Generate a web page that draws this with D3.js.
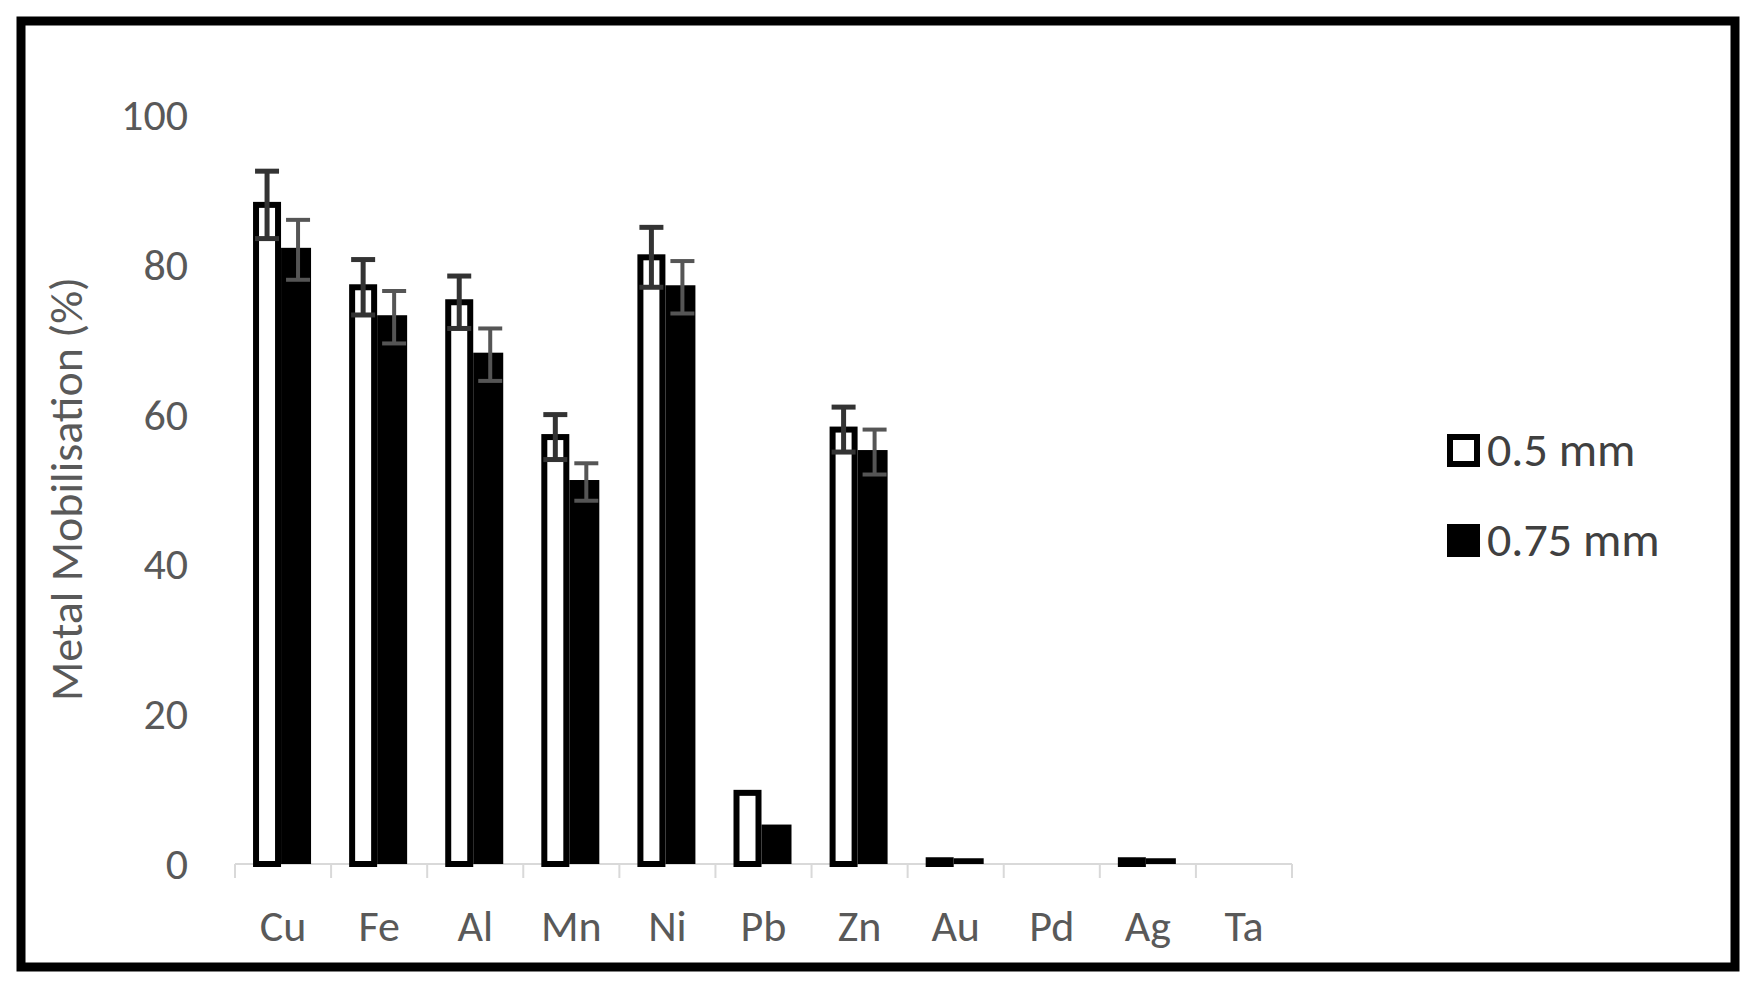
<!DOCTYPE html>
<html><head><meta charset="utf-8">
<script src="https://cdn.jsdelivr.net/npm/d3@7"></script>
<style>body{margin:0;background:#fff}svg{font-family:Calibri,"Liberation Sans Narrow","Open Sans",sans-serif}</style>
</head><body><svg id="c" width="1754" height="990"></svg>
<script>
const metals = ["Cu","Fe","Al","Mn","Ni","Pb","Zn","Au","Pd","Ag","Ta"];
const small = [88, 77, 75, 57, 81, 9.5, 58, 0.5, 0, 0.5, 0];
const smallErr = [4.5, 3.7, 3.5, 3, 4, 0, 3, 0, 0, 0, 0];
const large = [82, 73, 68, 51, 77, 5, 55, 0.5, 0, 0.5, 0];
const largeErr = [4, 3.5, 3.5, 2.5, 3.5, 0, 3, 0, 0, 0, 0];
const yTicks = [0, 20, 40, 60, 80, 100];
const seriesNames = ["0.5 mm", "0.75 mm"];

const svg = d3.select("#c");
svg.append("rect").attr("x", 21).attr("y", 21).attr("width", 1714).attr("height", 946)
  .attr("fill", "#fff").attr("stroke", "#000").attr("stroke-width", 9);

const x = d3.scaleBand().domain(metals).range([235, 1292]);
const y = d3.scaleLinear().domain([0, 100]).range([864, 115]);
const bw = 26;

// axis
const ax = svg.append("g").attr("transform", "translate(0,864)");
ax.append("line").attr("x1", 235).attr("x2", 1292).attr("stroke", "#d9d9d9").attr("stroke-width", 2);
ax.selectAll(".t").data(d3.range(metals.length + 1)).join("line")
  .attr("x1", i => 235 + i * x.bandwidth()).attr("x2", i => 235 + i * x.bandwidth())
  .attr("y1", 0).attr("y2", 14).attr("stroke", "#d9d9d9").attr("stroke-width", 2);
ax.selectAll("text").data(metals).join("text")
  .attr("x", d => x(d) + x.bandwidth() / 2).attr("y", 77).attr("text-anchor", "middle")
  .attr("font-size", 44).attr("fill", "#595959").text(d => d);

svg.selectAll(".yl").data(yTicks).join("text")
  .attr("x", 188).attr("y", d => y(d) + 15).attr("text-anchor", "end")
  .attr("font-size", 44).attr("fill", "#595959").text(d => d);

svg.append("text").attr("transform", "translate(82,489) rotate(-90)")
  .attr("text-anchor", "middle").attr("font-size", 46).attr("fill", "#595959")
  .text("Metal Mobilisation (%)");

const cx = d => x(d) + x.bandwidth() / 2;

// bars
svg.selectAll(".s").data(metals).join("rect")
  .attr("x", d => cx(d) - bw - 1).attr("width", bw - 4)
  .attr("y", (d, i) => y(small[i])).attr("height", (d, i) => 864 - y(small[i]))
  .attr("fill", "#fff").attr("stroke", "#000").attr("stroke-width", (d, i) => small[i] > 0 ? 6 : 0);
svg.selectAll(".l").data(metals).join("rect")
  .attr("x", d => cx(d) - 2).attr("width", bw + 4)
  .attr("y", (d, i) => y(large[i]) - 2).attr("height", (d, i) => large[i] > 0 ? 864 - y(large[i]) + 2 : 0)
  .attr("fill", "#000");

// error bars
function err(vals, errs, off, col, w) {
  const g = svg.append("g").attr("stroke", col).attr("stroke-width", w);
  metals.forEach((d, i) => {
    if (!errs[i]) return;
    const xc = cx(d) + off, t = y(vals[i] + errs[i]), b = y(vals[i] - errs[i]);
    g.append("line").attr("x1", xc).attr("x2", xc).attr("y1", t).attr("y2", b);
    g.append("line").attr("x1", xc - 12).attr("x2", xc + 12).attr("y1", t).attr("y2", t);
    g.append("line").attr("x1", xc - 12).attr("x2", xc + 12).attr("y1", b).attr("y2", b);
  });
}
err(small, smallErr, -bw / 2 - 3, "#333", 5);
err(large, largeErr, bw / 2 + 2, "#555", 4);

// legend
const lg = svg.selectAll(".lg").data(seriesNames).join("g")
  .attr("transform", (d, i) => `translate(1447,${434 + i * 90})`);
lg.append("rect").attr("x", 3).attr("y", 3).attr("width", 27).attr("height", 27)
  .attr("fill", (d, i) => i ? "#000" : "#fff").attr("stroke", "#000").attr("stroke-width", 6);
lg.append("text").attr("x", 40).attr("y", 32).attr("font-size", 48).attr("fill", "#404040").text(d => d);
</script></body></html>
